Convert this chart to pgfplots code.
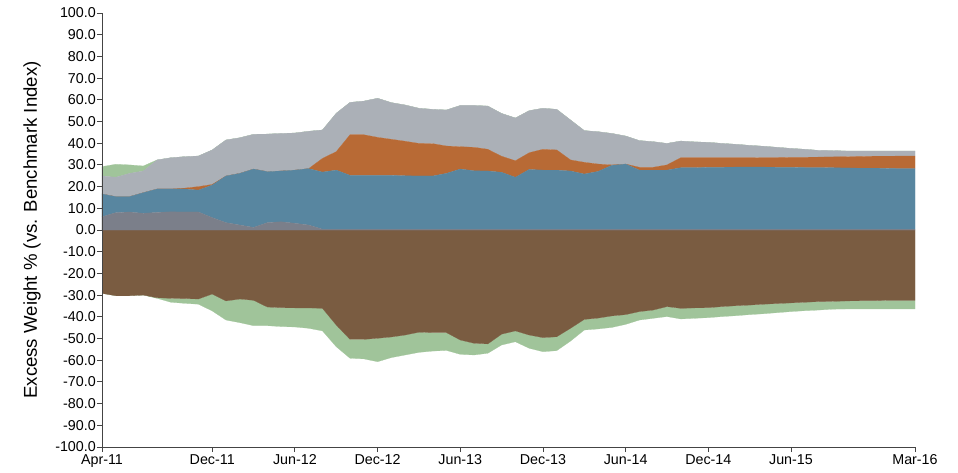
\documentclass[border=0pt]{standalone}
\usepackage{pgfplots}
\pgfplotsset{compat=1.18}
\usepackage{pgfplotstable}
\usepackage{fontspec}
\setmainfont{Liberation Sans}

\definecolor{cSlate}{HTML}{7B7F8A}
\definecolor{cBlue}{HTML}{5886A0}
\definecolor{cOrange}{HTML}{B86A35}
\definecolor{cGrey}{HTML}{ABB0B7}
\definecolor{cGreen}{HTML}{A0C49A}
\definecolor{cBrown}{HTML}{7A5C41}
\definecolor{cAxis}{HTML}{444444}

% month index (0 = Apr-11) and positive excess weights
\pgfplotstableread{
m dg blue orange grey green
0 6.1 10.5 0.0 8.3 4.3
1 8.0 7.4 0.0 8.9 6.0
2 8.3 7.1 0.0 10.7 3.9
3 7.7 9.5 0.0 10.0 2.3
4 8.1 10.8 0.0 13.4 0.0
5 8.4 10.5 0.0 14.4 0.0
6 8.3 10.6 0.4 14.5 0.0
7 8.3 10.1 1.6 14.1 0.0
8 5.7 15.0 0.3 15.9 0.0
9 3.4 21.5 0.0 16.6 0.0
10 2.3 23.8 0.0 16.4 0.0
11 1.2 26.9 0.0 16.0 0.0
12 3.4 23.5 0.0 17.3 0.0
13 3.8 23.4 0.0 17.3 0.0
14 3.1 24.5 0.0 17.1 0.0
15 2.3 26.0 0.0 17.2 0.0
16 0.4 26.3 6.3 13.1 0.0
17 0.4 27.2 8.5 17.7 0.0
18 0.4 24.8 18.7 14.9 0.0
19 0.4 24.8 18.7 15.5 0.0
20 0.4 24.8 17.5 18.0 0.0
21 0.4 24.8 16.6 16.9 0.0
22 0.4 24.6 15.9 16.7 0.0
23 0.4 24.5 15.0 16.2 0.0
24 0.4 24.5 14.9 15.8 0.0
25 0.4 25.7 12.6 16.6 0.0
26 0.4 27.7 10.3 19.0 0.0
27 0.4 26.9 10.8 19.3 0.0
28 0.4 26.8 10.0 19.9 0.0
29 0.4 26.2 7.4 19.7 0.0
30 0.4 23.9 7.6 19.7 0.0
31 0.4 27.5 7.7 19.4 0.0
32 0.4 27.2 9.6 18.9 0.0
33 0.4 27.2 9.3 18.7 0.0
34 0.4 26.8 5.1 18.4 0.0
35 0.4 25.4 5.4 14.6 0.0
36 0.4 26.6 3.4 14.9 0.0
37 0.4 29.4 0.2 14.5 0.0
38 0.4 30.0 0.0 12.9 0.0
39 0.4 27.2 1.3 12.3 0.0
40 0.4 27.2 1.3 11.8 0.0
41 0.4 27.2 2.4 9.9 0.0
42 0.4 28.3 4.6 7.7 0.0
43 0.4 28.3 4.6 7.3 0.0
44 0.4 28.5 4.4 7.1 0.0
45 0.4 28.5 4.4 6.6 0.0
46 0.4 28.6 4.3 6.2 0.0
47 0.4 28.6 4.3 5.7 0.0
48 0.4 28.6 4.4 5.2 0.0
49 0.4 28.5 4.5 4.7 0.0
50 0.4 28.5 4.6 4.1 0.0
51 0.4 28.4 4.7 3.7 0.0
52 0.4 28.4 4.8 3.1 0.0
53 0.4 28.3 5.0 2.9 0.0
54 0.4 28.2 5.2 2.6 0.0
55 0.4 28.1 5.4 2.5 0.0
56 0.4 28.1 5.5 2.4 0.0
57 0.4 28.0 5.6 2.4 0.0
58 0.4 27.9 5.8 2.3 0.0
59 0.4 27.9 5.8 2.3 0.0
}\postable

% negative excess weights
\pgfplotstableread{
m brown green
0 -29.2 0.0
1 -30.3 0.0
2 -30.3 0.0
3 -30.0 0.0
4 -31.2 -0.3
5 -31.5 -1.8
6 -31.6 -2.2
7 -31.8 -2.4
8 -29.5 -7.8
9 -32.7 -8.8
10 -31.8 -10.9
11 -32.4 -11.7
12 -35.5 -8.6
13 -35.8 -8.7
14 -35.9 -8.8
15 -35.9 -9.4
16 -36.1 -10.4
17 -43.8 -10.0
18 -50.4 -8.7
19 -50.4 -9.0
20 -49.9 -10.8
21 -49.3 -9.5
22 -48.4 -9.2
23 -47.1 -9.3
24 -47.3 -8.5
25 -47.3 -8.2
26 -50.7 -6.6
27 -52.2 -5.4
28 -52.5 -4.3
29 -48.0 -5.0
30 -46.5 -5.0
31 -48.4 -6.1
32 -49.6 -6.5
33 -49.2 -6.4
34 -45.3 -5.9
35 -41.2 -4.9
36 -40.6 -5.0
37 -39.6 -5.3
38 -39.0 -4.5
39 -37.6 -3.9
40 -36.9 -3.8
41 -35.3 -4.6
42 -36.1 -4.9
43 -35.9 -4.8
44 -35.8 -4.6
45 -35.3 -4.6
46 -34.9 -4.6
47 -34.6 -4.4
48 -34.2 -4.4
49 -33.9 -4.2
50 -33.6 -4.0
51 -33.3 -3.9
52 -33.0 -3.9
53 -32.9 -3.6
54 -32.7 -3.7
55 -32.6 -3.8
56 -32.6 -3.8
57 -32.4 -4.0
58 -32.4 -4.0
59 -32.4 -4.0
}\negtable

\begin{document}
\begin{tikzpicture}
\pgfplotsset{base/.style={
    width=813pt, height=434pt, scale only axis,
    xmin=0, xmax=59, ymin=-100, ymax=100,
    stack plots=y,
}}
% negative side
\begin{axis}[base, hide axis]
\addplot[fill=cBrown, draw=cBrown, line width=0.2pt] table[x=m, y=brown] {\negtable} \closedcycle;
\addplot[fill=cGreen, draw=cGreen, line width=0.2pt] table[x=m, y=green] {\negtable} \closedcycle;
\end{axis}
% positive side, with the axes
\begin{axis}[base,
    axis on top,
    axis lines=left,
    axis line style={-, draw=cAxis, line width=0.9pt},
    tick style={draw=cAxis, line width=0.9pt},
    tick align=outside,
    major tick length=5pt,
    ytick={-100,-90,...,100},
    yticklabels={-100.0,-90.0,-80.0,-70.0,-60.0,-50.0,-40.0,-30.0,-20.0,-10.0,0.0,10.0,20.0,30.0,40.0,50.0,60.0,70.0,80.0,90.0,100.0},
    xtick={0,8,14,20,26,32,38,44,50,59},
    xticklabels={Apr-11,Dec-11,Jun-12,Dec-12,Jun-13,Dec-13,Jun-14,Dec-14,Jun-15,Mar-16},
    ticklabel style={font=\fontsize{14.3}{14.3}\selectfont, text=black},
    yticklabel style={inner xsep=1pt},
    xticklabel style={inner ysep=2pt},
    ylabel={Excess Weight \% (vs. Benchmark Index)},
    every axis y label/.style={at={(axis description cs:-0.086,0.5)}, rotate=90, anchor=center,
        font=\fontsize{18.6}{18.6}\selectfont, text=black},
]
\addplot[fill=cSlate, draw=cSlate, line width=0.2pt] table[x=m, y=dg] {\postable} \closedcycle;
\addplot[fill=cBlue, draw=cBlue, line width=0.2pt] table[x=m, y=blue] {\postable} \closedcycle;
\addplot[fill=cOrange, draw=cOrange, line width=0.2pt] table[x=m, y=orange] {\postable} \closedcycle;
\addplot[fill=cGrey, draw=cGrey, line width=0.2pt] table[x=m, y=grey] {\postable} \closedcycle;
\addplot[fill=cGreen, draw=cGreen, line width=0.2pt] table[x=m, y=green] {\postable} \closedcycle;
\end{axis}
\pgfresetboundingbox
\path (current axis.south west) ++(-102pt,-25pt) rectangle ++(958pt,472pt);
\end{tikzpicture}
\end{document}
